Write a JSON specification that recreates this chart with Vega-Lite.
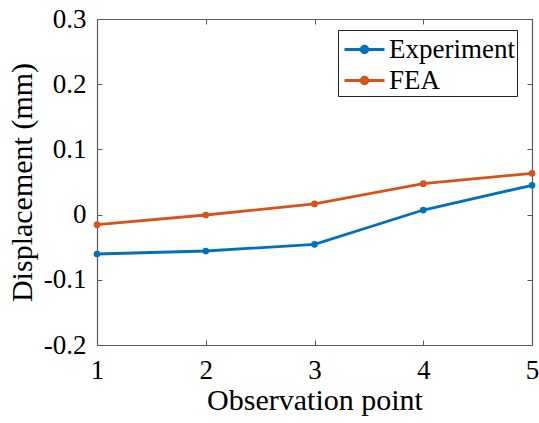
{
  "$schema": "https://vega.github.io/schema/vega-lite/v6.json",
  "width": 435,
  "height": 326,
  "autosize": {"type": "none"},
  "padding": {"left": 97, "top": 19, "right": 7, "bottom": 78},
  "background": "white",
  "config": {
    "view": {"stroke": null},
    "font": "Liberation Serif, Times New Roman, DejaVu Serif, serif",
    "axis": {
      "domainColor": "#5a5a5a",
      "domainWidth": 1.2,
      "tickColor": "#5a5a5a",
      "tickWidth": 1,
      "grid": false,
      "labelFont": "Liberation Serif, Times New Roman, DejaVu Serif, serif",
      "labelFontSize": 27,
      "labelColor": "black",
      "titleFont": "Liberation Serif, Times New Roman, DejaVu Serif, serif",
      "titleFontWeight": "normal",
      "titleColor": "black",
      "titleFontSize": 30
    }
  },
  "data": {
    "values": [
      {"point": 1, "disp": -0.0604, "series": "Experiment"},
      {"point": 2, "disp": -0.0558, "series": "Experiment"},
      {"point": 3, "disp": -0.0456, "series": "Experiment"},
      {"point": 4, "disp": 0.007, "series": "Experiment"},
      {"point": 5, "disp": 0.045, "series": "Experiment"},
      {"point": 1, "disp": -0.0155, "series": "FEA"},
      {"point": 2, "disp": -0.0006, "series": "FEA"},
      {"point": 3, "disp": 0.0163, "series": "FEA"},
      {"point": 4, "disp": 0.0474, "series": "FEA"},
      {"point": 5, "disp": 0.0633, "series": "FEA"}
    ]
  },
  "resolve": {"axis": {"x": "independent", "y": "independent"}},
  "layer": [
    {
      "mark": {"type": "point", "opacity": 0},
      "encoding": {
        "x": {"field": "point", "type": "quantitative",
              "scale": {"domain": [1, 5], "nice": false, "zero": false},
              "axis": {"orient": "top", "labels": false, "title": null, "tickSize": -5, "values": [1,2,3,4,5]}},
        "y": {"field": "disp", "type": "quantitative",
              "scale": {"domain": [-0.2, 0.3], "nice": false, "zero": false},
              "axis": {"orient": "right", "labels": false, "title": null, "tickSize": -5, "values": [-0.2,-0.1,0,0.1,0.2,0.3]}}
      }
    },
    {
      "mark": {"type": "line", "strokeWidth": 2.8, "point": {"filled": true, "size": 45}},
      "encoding": {
        "x": {"field": "point", "type": "quantitative",
              "scale": {"domain": [1, 5], "nice": false, "zero": false},
              "axis": {"orient": "bottom", "title": "Observation point", "tickSize": -5, "labelPadding": 17, "titlePadding": 2, "values": [1,2,3,4,5], "labelFlush": false}},
        "y": {"field": "disp", "type": "quantitative",
              "scale": {"domain": [-0.2, 0.3], "nice": false, "zero": false},
              "axis": {"orient": "left", "title": "Displacement (mm)", "tickSize": -5, "labelPadding": 16, "titlePadding": 6, "values": [-0.2,-0.1,0,0.1,0.2,0.3], "labelFlush": false,
                       "labelExpr": "replace(format(datum.value, '.1~f'), '\u2212', '-')"}},
        "color": {"field": "series", "type": "nominal",
                  "scale": {"domain": ["Experiment", "FEA"], "range": ["#0072BD", "#D95319"]},
                  "legend": {
                    "title": null,
                    "orient": "none",
                    "legendX": 241,
                    "legendY": 11,
                    "strokeColor": "#222222",
                    "fillColor": "white",
                    "padding": 2,
                    "labelFont": "Liberation Serif, Times New Roman, DejaVu Serif, serif",
                    "labelFontSize": 27,
                    "labelColor": "black",
                    "labelOffset": 7,
                    "symbolOffset": 7,
                    "rowPadding": 0,
                    "symbolType": "M-1.25,0H1.25M-0.21,0A0.21,0.21,0,1,0,0.21,0A0.21,0.21,0,1,0,-0.21,0",
                    "symbolSize": 1024,
                    "symbolStrokeWidth": 2.8,
                    "encode": {"symbols": {"update": {"fill": {"scale": "color", "field": "value"}}}}
                  }}
      }
    }
  ]
}
